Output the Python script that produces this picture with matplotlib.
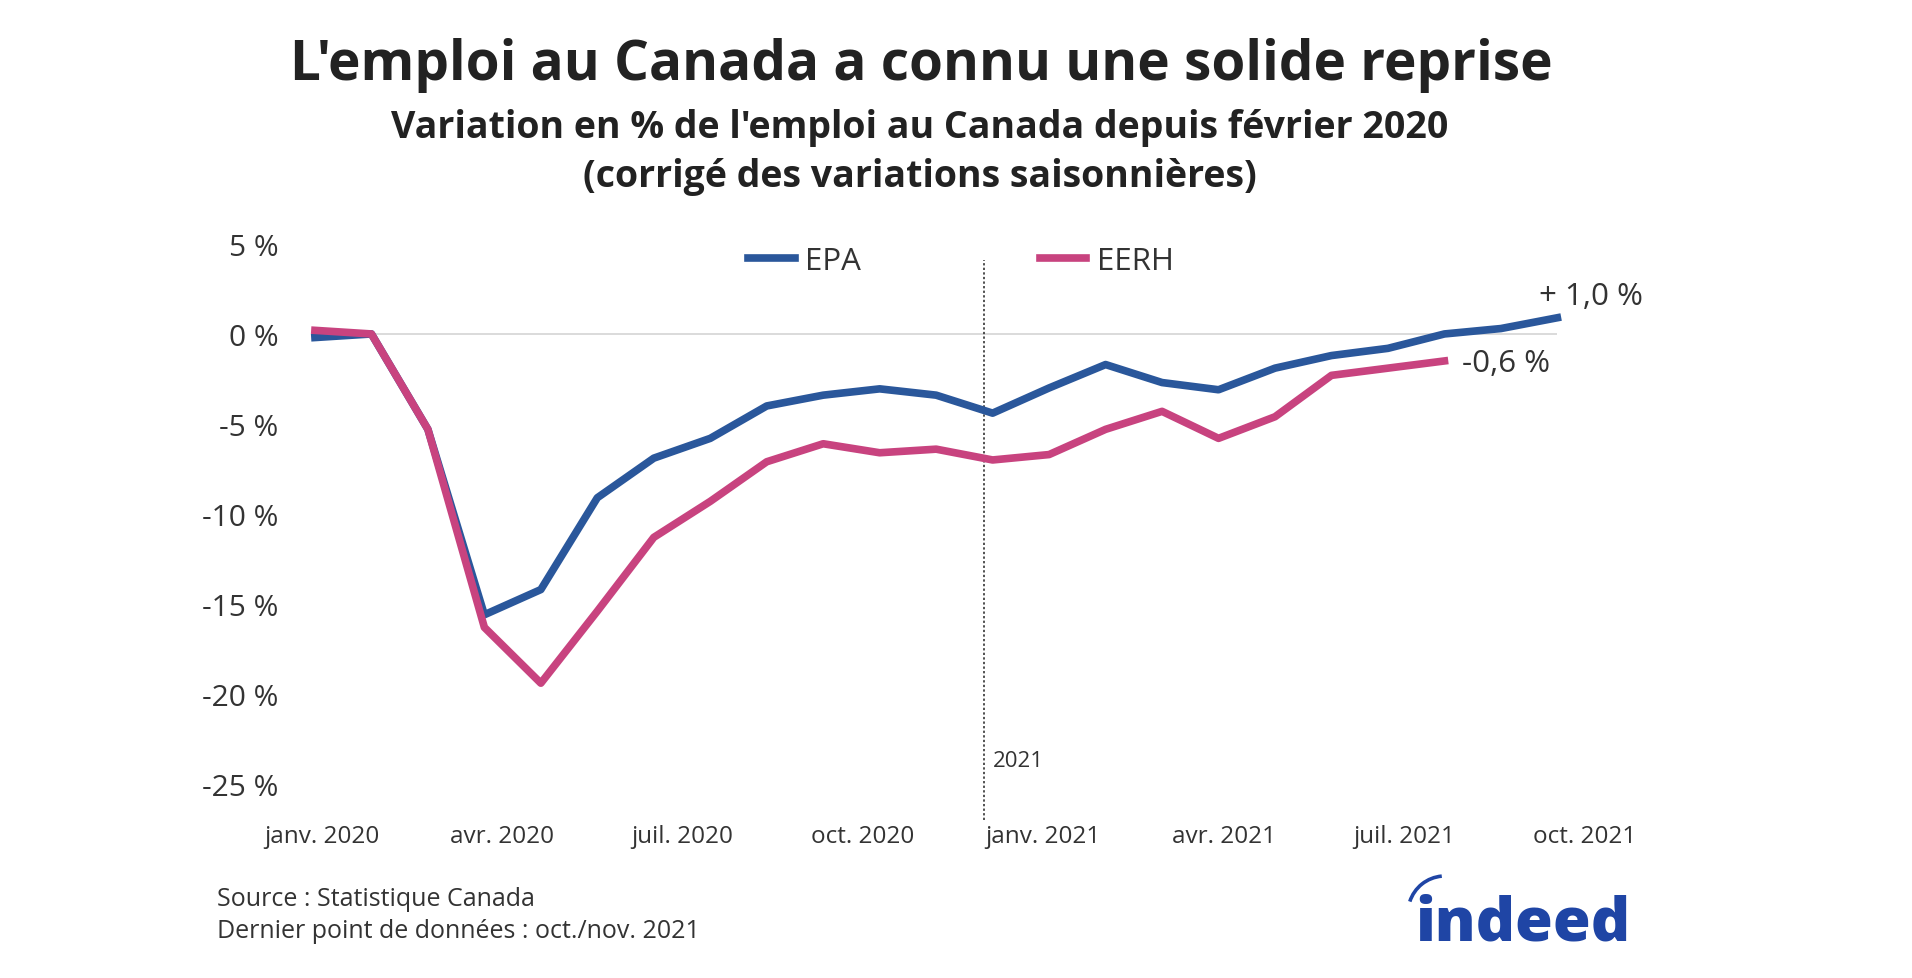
import numpy as np
import matplotlib.pyplot as plt
from matplotlib.patches import Arc

plt.rcParams['font.family'] = ['Open Sans', 'DejaVu Sans']

# monthly index, janv. 2020 = 0
months = np.arange(23)
epa = [-0.2, 0.0, -5.3, -15.6, -14.2, -9.1, -6.9, -5.8, -4.0, -3.4, -3.05, -3.4,
       -4.4, -3.0, -1.7, -2.7, -3.1, -1.9, -1.2, -0.8, 0.0, 0.3, 0.9]
eerh = [0.2, 0.0, -5.3, -16.3, -19.4, -15.4, -11.3, -9.3, -7.1, -6.1, -6.6, -6.4,
        -7.0, -6.7, -5.3, -4.3, -5.8, -4.6, -2.3, -1.9, -1.5]
x_labels = ['janv. 2020', 'avr. 2020', 'juil. 2020', 'oct. 2020',
            'janv. 2021', 'avr. 2021', 'juil. 2021', 'oct. 2021']
y_ticks = [5, 0, -5, -10, -15, -20, -25]
y_labels = ['5 %', '0 %', '-5 %', '-10 %', '-15 %', '-20 %', '-25 %']
year_break = 11.85
epa_label = '+ 1,0 %'
eerh_label = '-0,6 %'

blue = '#2a579b'
pink = '#c8437f'
txt = '#333333'

fig = plt.figure(figsize=(19.12, 9.79), dpi=100)
ax = fig.add_axes([0.147, 0.1614, 0.7266, 0.5976])

ax.hlines(0, months[0], months[-1], color='#d4d4d4', lw=1.2, zorder=1)
ax.plot(months, epa, color=blue, lw=5.5, solid_joinstyle='round', label='EPA', zorder=3)
ax.plot(months[:len(eerh)], eerh, color=pink, lw=5.5, solid_joinstyle='round', label='EERH', zorder=3)
ax.axvline(year_break, ymin=0, ymax=(4.1 + 27) / 32.5, color='#222222', lw=1.1,
           ls=(0, (1.5, 1.5)), clip_on=False, zorder=2)
ax.annotate('2021', xy=(year_break, -23.7), xytext=(6, 0), textcoords='offset points',
            ha='left', va='center', fontsize=16, color=txt)

ax.annotate(epa_label, xy=(months[-1], epa[-1]), xytext=(-13, 16), textcoords='offset points',
            ha='left', va='center', fontsize=22.5, color=txt)
ax.annotate(eerh_label, xy=(months[len(eerh) - 1], eerh[-1]), xytext=(13, -1.5),
            textcoords='offset points', ha='left', va='center', fontsize=22.5, color=txt)

ax.set_xlim(-0.6, 24.0)
ax.set_ylim(-27, 5.5)
ax.set_yticks(y_ticks)
ax.set_yticklabels(y_labels, fontsize=21.5, color=txt)
ax.set_xticks(np.linspace(0.12, 22.48, len(x_labels)))
ax.set_xticklabels(x_labels, fontsize=17.5, color=txt)
ax.tick_params(axis='y', length=0, pad=2)
ax.tick_params(axis='x', length=0, pad=3)
for s in ax.spines.values():
    s.set_visible(False)

fig.legend(loc='center', bbox_to_anchor=(961 / 1912, 1 - 262 / 979), ncol=2, frameon=False,
           fontsize=22.5, handlelength=1.5, handletextpad=0.35, columnspacing=5.7,
           labelcolor=txt)

fig.text(921 / 1912, 1 - 66 / 979, "L'emploi au Canada a connu une solide reprise",
         ha='center', va='center', fontsize=39.5, fontweight='bold', color='#222222')
fig.text(920 / 1912, 1 - 128 / 979, "Variation en % de l'emploi au Canada depuis février 2020",
         ha='center', va='center', fontsize=27, fontweight='bold', color='#222222')
fig.text(920 / 1912, 1 - 177 / 979, "(corrigé des variations saisonnières)",
         ha='center', va='center', fontsize=27, fontweight='bold', color='#222222')

fig.text(217 / 1912, 1 - 899 / 979, 'Source : Statistique Canada',
         ha='left', va='center', fontsize=18, color=txt)
fig.text(217 / 1912, 1 - 932 / 979, 'Dernier point de données : oct./nov. 2021',
         ha='left', va='center', fontsize=18, color=txt)

# logo
logo_blue = '#1f45a5'
fig.text(1415 / 1912, 1 - 941 / 979, 'indeed', ha='left', va='baseline',
         fontsize=44, fontweight='heavy', color=logo_blue)
fig.add_artist(Arc((14.45, (979 - 914) / 100), 0.74, 0.74, theta1=95, theta2=162,
                   transform=fig.dpi_scale_trans, color=logo_blue, lw=2.6))

fig.savefig('out.png', dpi=100, facecolor='white')
